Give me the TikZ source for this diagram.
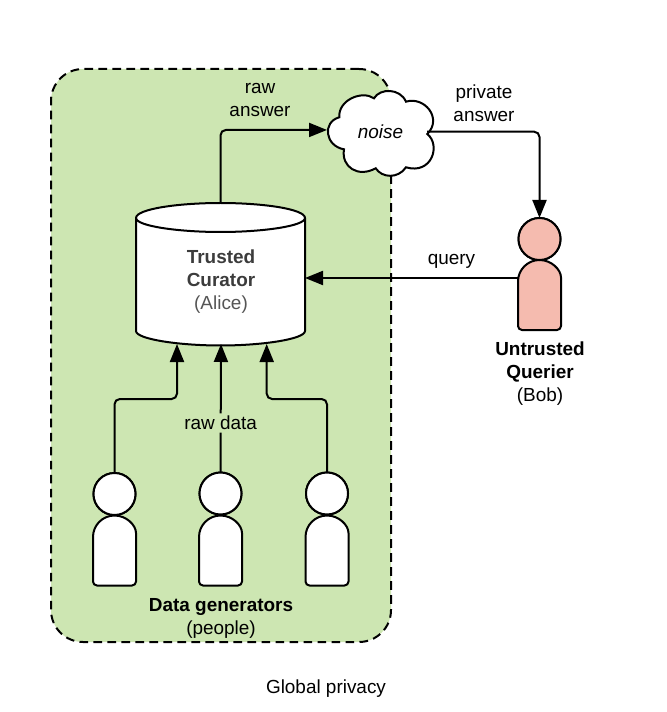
\documentclass[tikz,border=0pt]{standalone}
\usepackage{fontspec}
\setmainfont{Liberation Sans}
\usetikzlibrary{arrows.meta,calc}
\definecolor{regiongreen}{RGB}{205,230,178}
\definecolor{bobpink}{RGB}{245,187,175}
\definecolor{curatorgrey}{RGB}{60,60,60}
\definecolor{alicegrey}{RGB}{85,85,85}
\tikzset{
  ln/.style={line width=1.5pt,draw=black},
  conn/.style={ln,rounded corners=4pt,-{Triangle[length=13.5pt,width=10.5pt]}},
  ghost/.style={inner sep=0pt,outer sep=0pt},
  headnode/.style={circle,ln,inner sep=0pt,outer sep=0pt,minimum size=31.5pt},
  bodybox/.style={ghost,minimum width=32.25pt,minimum height=52.5pt},
  txt/.style={font=\fontsize{14.2pt}{17.25pt}\selectfont,align=center,inner sep=0pt,text=black},
}
\newcommand{\personbody}[2]{%
  \draw[ln,fill=#2,rounded corners=3pt] ($(#1.north west)+(0,21.5)$) -- (#1.south west) -- (#1.south east) -- ($(#1.north east)+(0,21.5)$) [sharp corners] arc[start angle=0,end angle=180,radius=16.125pt] -- cycle;%
}
\begin{document}
\begin{tikzpicture}[x=0.75pt,y=-0.75pt]
\useasboundingbox (0,0) rectangle (666,712);
\fill[white] (0,0) rectangle (666,712);
% region
\node[ghost,draw=black,line width=1.5pt,dash pattern=on 6.5pt off 4pt,fill=regiongreen,rounded corners=24pt,minimum width=255pt,minimum height=429.75pt] (region) at (221,355.5) {};
% invisible anchors
\node[ghost,minimum width=126.75pt,minimum height=106.5pt] (curator) at (220.5,274) {};
\node[ghost,minimum width=80.25pt,minimum height=63.75pt] (noise) at (380.5,132.5) {};
\node[bodybox] (b1) at (114.5,550.5) {};
\node[bodybox] (b2) at (220.5,550.5) {};
\node[bodybox] (b3) at (327,550.5) {};
\node[bodybox] (bobbody) at (539.5,295) {};
\node[headnode,fill=white] (h1) at (114.5,494) {};
\node[headnode,fill=white] (h2) at (220.5,493.5) {};
\node[headnode,fill=white] (h3) at (327,493.5) {};
\node[headnode,fill=bobpink] (bobhead) at (539.5,239) {};
\coordinate (in1) at (177,344);
\coordinate (in2) at (221,344);
\coordinate (in3) at (266.7,344);
\coordinate (bus) at (0,399);
\coordinate (qtarget) at ([yshift=-3pt]curator.east);
\coordinate (rawtarget) at ([yshift=1.9pt]noise.west);
\coordinate (privstart) at (427,131.7);
% connector behind cylinder
\draw[conn] (curator.north) |- (rawtarget);
% cylinder
\draw[ln,fill=white] (136,218) -- (136,331) .. controls (136,339) and (178,345.5) .. (220.5,345.5) .. controls (263,345.5) and (305,339) .. (305,331) -- (305,218) .. controls (305,209) and (263,203) .. (220.5,203) .. controls (178,203) and (136,209) .. (136,218) -- cycle;
\draw[ln] (136,218) .. controls (136,226) and (178,232) .. (220.5,232) .. controls (263,232) and (305,226) .. (305,218);
\node[txt] (curatorlabel) at (221,281.5) {\textcolor{curatorgrey}{\textbf{Trusted}}\\\textcolor{curatorgrey}{\textbf{Curator}}\\\textcolor{alicegrey}{(Alice)}};
% cloud
\draw[ln,fill=white] (344,149.3) .. controls (325,146) and (322,122) .. (339.3,117.3)
  .. controls (338,100) and (362,90) .. (374,98.3)
  .. controls (380,88) and (400,88) .. (406,101.7)
  .. controls (424,96) and (443,118) .. (427.3,134)
  .. controls (441,145) and (432,175) .. (406,167.3)
  .. controls (398,179) and (382,178) .. (375.7,168.3)
  .. controls (358,178) and (341,167) .. (344,149.3) -- cycle;
\node[txt] (noiselabel) at (380.5,132) {\textit{noise}};
% persons
\personbody{b1}{white}
\personbody{b2}{white}
\personbody{b3}{white}
\personbody{bobbody}{bobpink}
\node[headnode,fill=white] at (h1) {};
\node[headnode,fill=white] at (h2) {};
\node[headnode,fill=white] at (h3) {};
\node[headnode,fill=bobpink] at (bobhead) {};
% connectors
\draw[conn] (h1.north) -- (h1.north |- bus) -- (in1 |- bus) -- (in1);
\draw[conn] (h3.north) -- (h3.north |- bus) -- (in3 |- bus) -- (in3);
\draw[conn] (h2.north) -- (in2) node[pos=0.385,txt,fill=regiongreen,inner sep=2pt] (rawdata) {raw data};
\draw[conn] (privstart) -| (bobhead.north);
\draw[conn] (bobbody.west |- qtarget) -- (qtarget);
% labels
\node[txt] (rawanswer) at (260,100.5) {raw\\answer};
\node[txt] (privateanswer) at (484,103.5) {private\\answer};
\node[txt] (query) at (451.5,261.5) {query};
\node[txt] (bob) at (540,373.5) {\textbf{Untrusted}\\\textbf{Querier}\\(Bob)};
\node[txt] (people) at (221,618) {\textbf{Data generators}\\(people)};
\node[txt] (caption) at (326,688.5) {Global privacy};
\end{tikzpicture}
\end{document}
